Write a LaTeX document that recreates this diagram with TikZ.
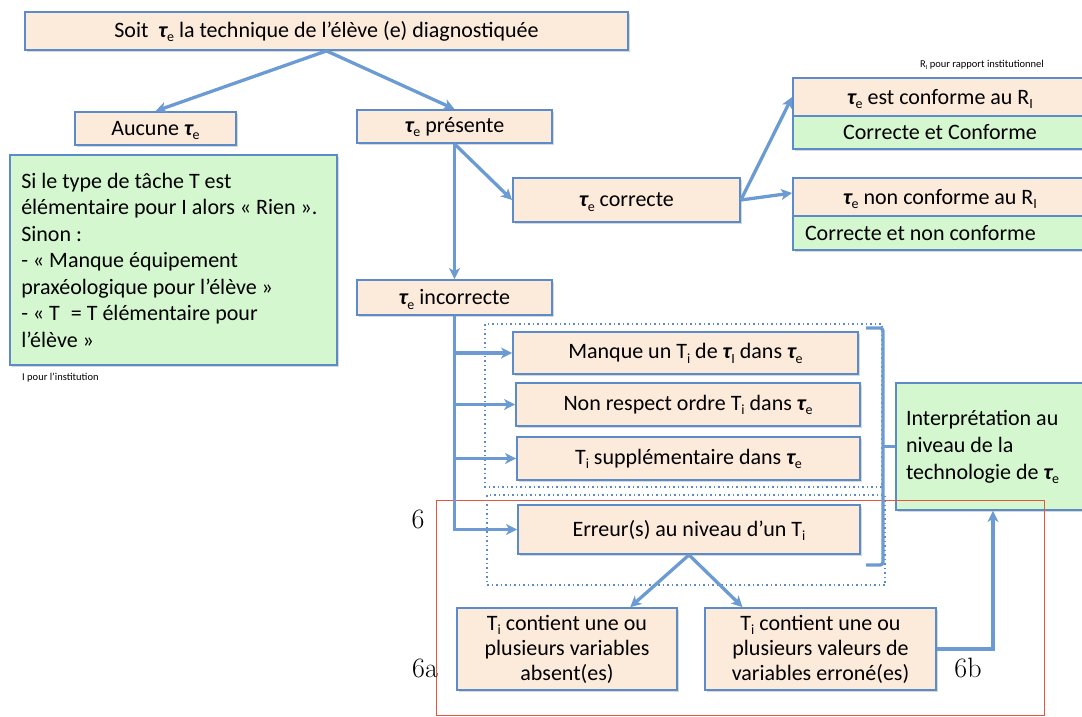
\documentclass[tikz,border=0pt]{standalone}
\usepackage{fontspec}
\setmainfont{Carlito}
\newfontfamily\labfont{Latin Modern Roman}
\usetikzlibrary{arrows.meta,shadows,calc}
\definecolor{peach}{HTML}{FCEADB}
\definecolor{mint}{HTML}{D4F7CF}
\definecolor{bblue}{HTML}{5B8CC8}
\definecolor{ablue}{HTML}{6B9BD2}
\definecolor{redl}{HTML}{E8553F}
\newcommand{\lowsub}[1]{\raisebox{-4.5pt}[0pt][0pt]{\fontsize{14}{14}\selectfont #1}}
\newcommand{\lowsubsmall}[1]{\raisebox{-2pt}[0pt][0pt]{\fontsize{6.5}{7}\selectfont #1}}
\newcommand{\tauE}{{\bfseries\itshape τ}\lowsub{e}}
\newcommand{\tauI}{{\bfseries\itshape τ}\lowsub{I}}
\newcommand{\Ti}{T\lowsub{i}}
\newcommand{\RI}{R\lowsub{I}}
\begin{document}
\begin{tikzpicture}[x=1pt,y=-1pt,
  box/.style={draw=bblue, line width=1.8pt, fill=peach, inner sep=2pt, align=center,
    font=\fontsize{22}{26.5}\selectfont,
    drop shadow={shadow xshift=2pt, shadow yshift=-2pt, opacity=0.3}},
  gbox/.style={box, fill=mint},
  arr/.style={draw=ablue, line width=3.3pt, -{Stealth[length=11pt,width=11pt,inset=3pt]}},
  brk/.style={draw=ablue, line width=3.3pt, rounded corners=3pt},
  dotbox/.style={draw=bblue, line width=1.5pt, dash pattern=on 1.5pt off 3pt},
  small/.style={font=\fontsize{10.5}{12}\selectfont, inner sep=0pt},
  lab/.style={font=\labfont\fontsize{28}{30}\selectfont, inner sep=0pt}]
\useasboundingbox (0,0) rectangle (1082,716);
\clip (0,0) rectangle (1082,716);
% nodes
\node[box, minimum width=603pt, minimum height=38pt] (top) at (326.5,31) {Soit\ \ \tauE{} la technique de l’élève (e) diagnostiquée};
\node[box, minimum width=161pt, minimum height=33pt] (auc) at (155.5,128.5) {Aucune \tauE};
\node[box, minimum width=195pt, minimum height=33pt] (pres) at (454.5,126.5) {\tauE{} présente};
\node[gbox, minimum width=327pt, minimum height=210pt] (gl) at (173.5,260) {\hspace*{7.5pt}\parbox[c]{312pt}{\raggedright Si le type de tâche T est\\élémentaire pour I alors « Rien ».\\Sinon :\\- « Manque équipement\\praxéologique pour l’élève »\\- « T\enspace= T élémentaire pour\\l’élève »}};
\node[small, anchor=west] (ipi) at (22,378) {I pour l’institution};
\node[box, minimum width=227pt, minimum height=44pt] (corr) at (626.5,200) {\tauE{} correcte};
\node[small] (rpi) at (982,65) {R\lowsubsmall{I} pour rapport institutionnel};
\node[box, minimum width=294pt, minimum height=38pt] (c1) at (940,97) {\tauE{} est conforme au \RI};
\node[gbox, minimum width=294pt, minimum height=33pt] (c1g) at (940,132.5) {Correcte et Conforme};
\node[box, minimum width=294pt, minimum height=38pt] (c2) at (940,197) {\tauE{} non conforme au \RI};
\node[gbox, minimum width=294pt, minimum height=34pt, text width=270pt, align=flush left] (c2g) at (940,233) {Correcte et non conforme};
\node[box, minimum width=195pt, minimum height=35pt] (inc) at (454.5,297.5) {\tauE{} incorrecte};
\draw[dotbox] (485,324) rectangle (882,487);
\draw[dotbox] (487,495) rectangle (885,585);
\node[box, minimum width=345pt, minimum height=42pt] (m1) at (685.5,353) {Manque un \Ti{} de \tauI{} dans \tauE};
\node[box, minimum width=344pt, minimum height=43pt] (m2) at (688,404.5) {Non respect ordre \Ti{} dans \tauE};
\node[box, minimum width=343pt, minimum height=43pt] (m3) at (688.5,458.5) {\Ti{} supplémentaire dans \tauE};
\node[box, minimum width=342pt, minimum height=49pt] (m4) at (689,529.5) {Erreur(s) au niveau d’un \Ti};
\node[gbox, minimum width=194pt, minimum height=127pt, text width=174pt, align=flush left, font=\fontsize{22}{27}\selectfont] (interp) at (993,446.5) {Interprétation au\\niveau de la\\technologie de \tauE\\[9pt]};
\node[box, minimum width=220pt, minimum height=82pt, font=\fontsize{22}{25}\selectfont] (b1) at (567,649) {\Ti{} contient une ou\\plusieurs variables\\absent(es)};
\node[box, minimum width=231pt, minimum height=82pt, font=\fontsize{22}{25}\selectfont] (b2) at (820.5,649) {\Ti{} contient une ou\\plusieurs valeurs de\\variables erroné(es)};
% red frame
\draw[redl, line width=0.8pt] (436,500) rectangle (1044,715);
% labels
\node[lab] (l6) at (418,519) {6};
\node[lab] (l6a) at (425,668) {6a};
\node[lab] (l6b) at (968,668) {6b};
% connectors
\draw[arr] (top.south) -- (auc.north);
\draw[arr] (top.south) -- (pres.north);
\draw[arr] (pres.south) -- (corr.west);
\draw[arr] (pres.south) -- (inc.north);
\draw[arr] (corr.east) -- (c1.west);
\draw[arr] (corr.east) -- ($(c2.west)+(0,-4)$);
\draw[arr] (inc.south) |- (m4.west);
\draw[arr] (inc.south |- m1.west) -- (m1.west);
\draw[arr] (inc.south |- m2.west) -- (m2.west);
\draw[arr] (inc.south |- m3.west) -- (m3.west);
\coordinate (bt) at (866,328);
\coordinate (btr) at (883,328);
\coordinate (bbr) at (883,565);
\coordinate (bb) at (866,565);
\draw[brk] (bt) -- (btr) -- (bbr) -- (bb);
\draw[brk] (btr |- interp.west) -- (interp.west);
\draw[arr] (m4.south) -- ($(b1.north)!0.57!(b1.north east)$);
\draw[arr] (m4.south) -- ($(b2.north)!0.67!(b2.north west)$);
\draw[arr] (b2.east) -| (interp.south);
\end{tikzpicture}
\end{document}
